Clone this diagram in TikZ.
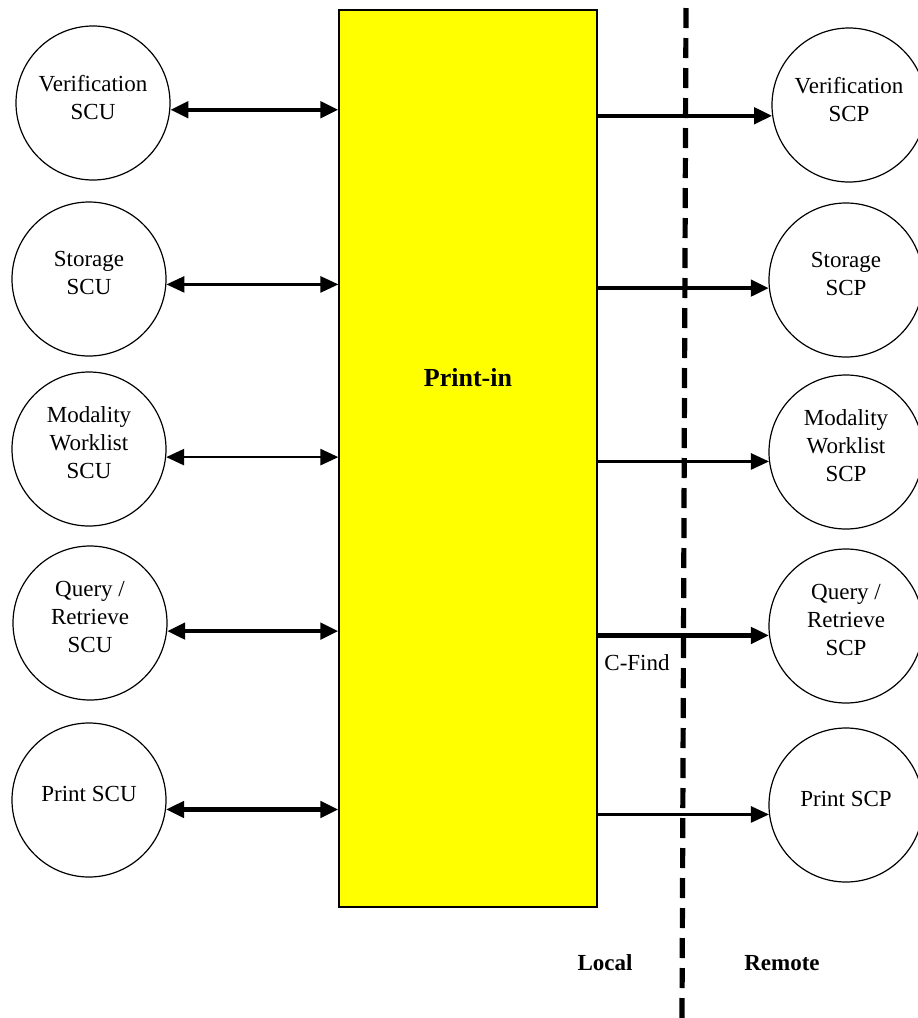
\documentclass[tikz,border=0pt]{standalone}
\usepackage{fontspec}
\setmainfont{Liberation Serif}
\usetikzlibrary{arrows.meta}
\definecolor{hubyellow}{RGB}{255,255,0}
\begin{document}
\begin{tikzpicture}[x=0.5pt,y=-0.5pt,
  svc/.style={circle,draw,line width=0.6pt,minimum size=77pt,inner sep=0pt,align=center,
    font=\fontsize{11.5}{14}\selectfont,text depth=6pt},
  hub/.style={draw,line width=0.6pt,fill=hubyellow,minimum width=129pt,minimum height=448.5pt,inner sep=0pt},
  tip/.style={-{Triangle[length=9pt,width=8pt]}},
  bitip/.style={{Triangle[length=9pt,width=8pt]}-{Triangle[length=9pt,width=8pt]}},
  thick arr/.style={line width=2.2pt},
  thin arr/.style={line width=1.3pt},
  lbl/.style={font=\fontsize{11.5}{14}\selectfont,inner sep=0pt},
  blbl/.style={font=\fontsize{11.5}{14}\selectfont\bfseries,inner sep=0pt}]
\useasboundingbox (0,0) rectangle (917,1018);
\node[hub] (hub) at (468,458.5) {};
\node[font=\fontsize{13}{15}\selectfont\bfseries] (title) at (468,378) {Print-in};
% left
\node[svc] (l1) at (93,103) {Verification\\SCU};
\node[svc] (l2) at (89,279) {Storage\\SCU};
\node[svc] (l3) at (89,449) {Modality\\Worklist\\SCU};
\node[svc] (l4) at (90,623) {Query /\\Retrieve\\SCU};
\node[svc] (l5) at (89,800) {Print SCU};
% right
\node[svc] (r1) at (849,105) {Verification\\SCP};
\node[svc] (r2) at (846,280) {Storage\\SCP};
\node[svc] (r3) at (846,452) {Modality\\Worklist\\SCP};
\node[svc] (r4) at (846,626) {Query /\\Retrieve\\SCP};
\node[svc] (r5) at (846,805) {Print SCP};
% divider
\coordinate (dtop) at (686,8);
\coordinate (dbot) at (682,1018);
\draw[line width=2.6pt,dash pattern=on 10pt off 5pt] (dtop) -- (dbot);
% left arrows
\draw[bitip,thick arr] (l1.-5) -- (l1.-5 -| hub.west);
\draw[bitip,thin arr] (l2.-4) -- (l2.-4 -| hub.west);
\draw[bitip,thin arr] (l3.-6) -- (l3.-6 -| hub.west);
\draw[bitip,thick arr] (l4.-6) -- (l4.-6 -| hub.west);
\draw[bitip,thick arr] (l5.-7) -- (l5.-7 -| hub.west);
% right arrows
\draw[tip,thick arr] (r1.188 -| hub.east) -- (r1.188);
\draw[tip,thick arr] (r2.186 -| hub.east) -- (r2.186);
\draw[tip,thin arr] (r3.187 -| hub.east) -- (r3.187);
\draw[tip,thick arr] (r4.187 -| hub.east) -- (r4.187);
\draw[tip,thin arr] (r5.187 -| hub.east) -- (r5.187);
% labels
\node[lbl] (cfind) at (637,663) {C-Find};
\node[blbl] (local) at (605,963) {Local};
\node[blbl] (remote) at (782,963) {Remote};
\end{tikzpicture}
\end{document}
